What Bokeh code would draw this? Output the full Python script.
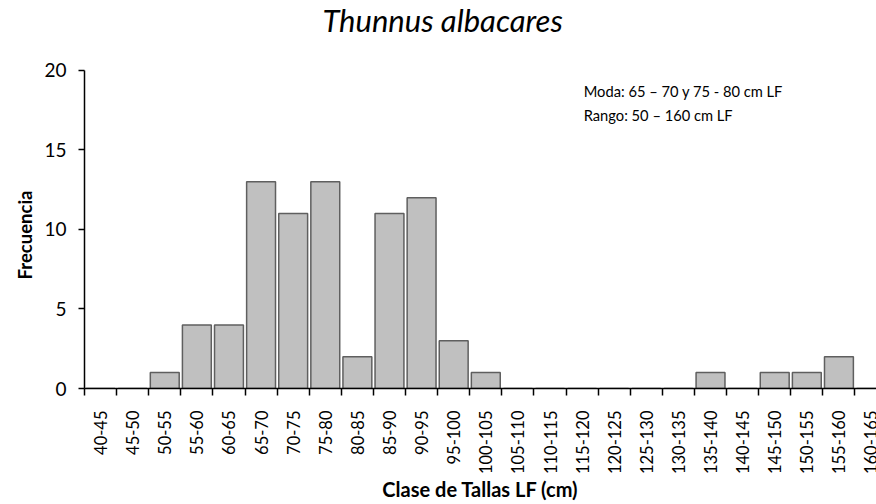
import math
from bokeh.plotting import figure
from bokeh.models import Range1d, FixedTicker, Label, ColumnDataSource
from bokeh.embed import file_html
from bokeh.resources import INLINE

categories = ["40-45", "45-50", "50-55", "55-60", "60-65", "65-70", "70-75", "75-80",
              "80-85", "85-90", "90-95", "95-100", "100-105", "105-110", "110-115",
              "115-120", "120-125", "125-130", "130-135", "135-140", "140-145",
              "145-150", "150-155", "155-160", "160-165"]
frecuencia = [0, 0, 1, 4, 4, 13, 11, 13, 2, 11, 12, 3, 1, 0, 0,
              0, 0, 0, 0, 1, 0, 1, 1, 2, 0]
y_ticks = [0, 5, 10, 15, 20]
y_max = 20
title_text = "Thunnus albacares"
x_label = "Clase de Tallas LF (cm)"
y_label = "Frecuencia"
note_lines = ["Moda: 65 \u2013 70 y 75 - 80 cm LF", "Rango: 50 \u2013 160 cm LF"]

FONT = "Lato"

centers = [i + 0.5 for i in range(len(categories))]
bounds = list(range(len(categories) + 1))

src = ColumnDataSource(dict(x=centers, top=frecuencia))

# frame extends to the top of the canvas; the axis itself is bounded to 0..20
p = figure(width=876, height=504, output_backend="svg", toolbar_location=None,
           x_range=Range1d(0, 24.67), y_range=Range1d(0, 24.40),
           min_border_left=84, min_border_right=0, min_border_top=0,
           min_border_bottom=116)
p.title.visible = False

p.vbar(x="x", top="top", width=0.9, bottom=0, source=src,
       fill_color="#c0c0c0", line_color="#5f5f5f", line_width=1.5)

p.outline_line_color = None
p.xgrid.visible = False
p.ygrid.visible = False
p.background_fill_color = "white"
p.border_fill_color = "white"

# title
p.add_layout(Label(x=7.41, y=23.15, text=title_text, text_font=FONT,
                   text_font_style="italic", text_font_size="31px",
                   text_color="black", text_baseline="alphabetic",
                   text_align="left"))

# x axis
xa = p.xaxis[0]
xa.ticker = FixedTicker(ticks=centers, minor_ticks=bounds)
xa.major_label_overrides = {c: lab for c, lab in zip(centers, categories)}
xa.major_label_orientation = math.pi / 2
xa.major_tick_out = 0
xa.major_tick_in = 0
xa.minor_tick_out = 7
xa.minor_tick_in = 0
xa.minor_tick_line_color = "black"
xa.minor_tick_line_width = 1.5
xa.axis_line_color = "black"
xa.axis_line_width = 1.5
xa.major_label_text_font = FONT
xa.major_label_text_font_size = "16.5px"
xa.major_label_text_color = "black"
xa.major_label_standoff = 15
xa.axis_label = x_label
xa.axis_label_text_font = FONT
xa.axis_label_text_font_style = "bold"
xa.axis_label_text_font_size = "20px"
xa.axis_label_text_color = "black"
xa.axis_label_standoff = 0

# y axis (label padded with no-break spaces so it centres on the 0-20 span)
ya = p.yaxis[0]
ya.bounds = (0, y_max)
ya.ticker = FixedTicker(ticks=y_ticks, minor_ticks=[])
ya.major_tick_out = 6
ya.major_tick_in = 0
ya.major_tick_line_color = "black"
ya.major_tick_line_width = 1.5
ya.axis_line_color = "black"
ya.axis_line_width = 1.5
ya.major_label_text_font = FONT
ya.major_label_text_font_size = "19px"
ya.major_label_text_color = "black"
ya.major_label_standoff = 12
ya.axis_label = y_label + "\u00a0" * 18
ya.axis_label_text_font = FONT
ya.axis_label_text_font_style = "bold"
ya.axis_label_text_font_size = "18.5px"
ya.axis_label_text_color = "black"
ya.axis_label_standoff = 5

for line, yy in zip(note_lines, [18.74, 17.18]):
    p.add_layout(Label(x=15.55, y=yy, text=line, text_font=FONT,
                       text_font_size="14.7px", text_color="black",
                       text_baseline="alphabetic", text_align="left"))

open("out.html", "w").write(file_html(p, INLINE))
